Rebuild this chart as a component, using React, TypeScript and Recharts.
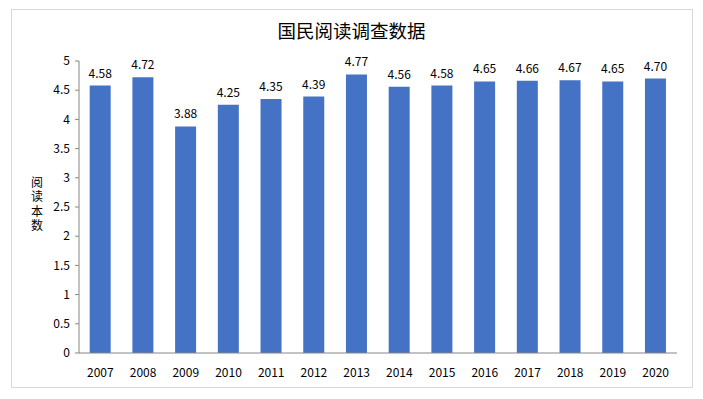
import { BarChart, Bar, XAxis, YAxis, LabelList } from 'recharts'

const YEARS = ['2007', '2008', '2009', '2010', '2011', '2012', '2013', '2014', '2015', '2016', '2017', '2018', '2019', '2020']
const BOOKS = [4.58, 4.72, 3.88, 4.25, 4.35, 4.39, 4.77, 4.56, 4.58, 4.65, 4.66, 4.67, 4.65, 4.70]
const Y_TICKS = [0, 0.5, 1, 1.5, 2, 2.5, 3, 3.5, 4, 4.5, 5]

const BLUE = '#4472C4'
const FONT = '"Noto Sans CJK SC", "Noto Sans", sans-serif'

const data = YEARS.map((year, i) => ({ year, value: BOOKS[i] }))

// stacked upright characters, as one text element
function VerticalLabel() {
  return (
    <text
      x={37}
      y={176}
      fontSize={12}
      fill="#000"
      fontFamily={FONT}
      style={{ writingMode: 'vertical-rl', letterSpacing: 2.5 }}
    >
      阅读本数
    </text>
  )
}

export default function App() {
  return (
    <div style={{ position: 'absolute', left: 0, top: 0, width: 703, height: 399, background: '#fff', fontFamily: FONT }}>
      <div style={{ position: 'absolute', left: 11, top: 9, width: 680, height: 377, border: '1px solid #d9d9d9' }} />
      <div style={{ position: 'absolute', left: 0, top: 17, width: 703, textAlign: 'center', fontSize: 18.5, color: '#000' }}>
        国民阅读调查数据
      </div>
      <div style={{ position: 'absolute', left: 0, top: 0 }}>
        <BarChart width={703} height={399} data={data} margin={{ top: 61, right: 26, bottom: 16, left: 0 }} barCategoryGap="25%">
          <XAxis
            dataKey="year"
            tickLine={false}
            axisLine={{ stroke: '#868686' }}
            tick={{ fontSize: 12, fill: '#000', fontFamily: FONT }}
            tickMargin={9}
            height={30}
            interval={0}
          />
          <YAxis
            domain={[0, 5]}
            ticks={Y_TICKS}
            width={79}
            axisLine={{ stroke: '#868686' }}
            tickLine={{ stroke: '#868686' }}
            tickSize={4}
            tickMargin={5}
            tick={{ fontSize: 12, fill: '#000', fontFamily: FONT }}
            interval={0}
          />
          <Bar dataKey="value" fill={BLUE} isAnimationActive={false} maxBarSize={22}>
            <LabelList
              dataKey="value"
              position="top"
              offset={8}
              formatter={(v: any) => Number(v).toFixed(2)}
              style={{ fontSize: 12, fill: '#000', fontFamily: FONT }}
            />
          </Bar>
          <VerticalLabel />
        </BarChart>
      </div>
    </div>
  )
}
